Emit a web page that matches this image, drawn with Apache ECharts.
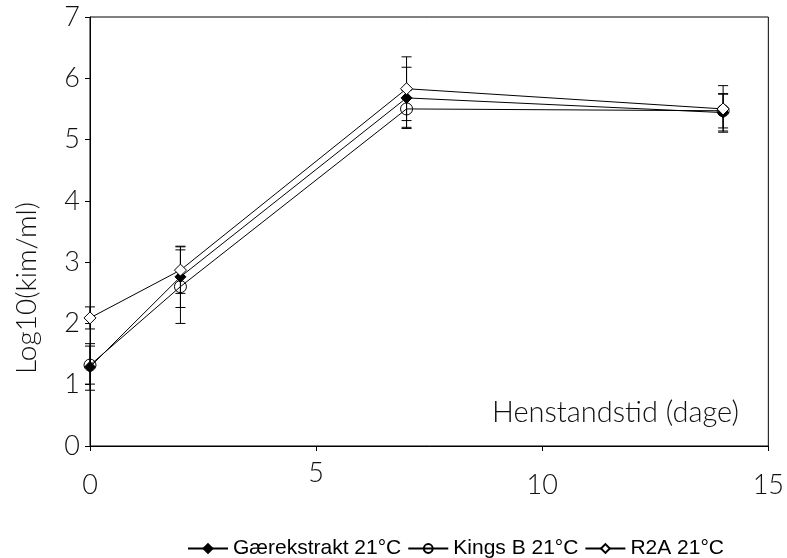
<!DOCTYPE html>
<html>
<head>
<meta charset="utf-8">
<script src="https://cdn.jsdelivr.net/npm/echarts@6/dist/echarts.min.js"></script>
<style>
  html, body { margin: 0; padding: 0; background: #fff; }
  #echarts { width: 787px; height: 558px; }
</style>
</head>
<body>
<div id="echarts"></div>
<script>
var days = [0, 2, 7, 14];
var gaer = [1.29, 2.76, 5.68, 5.44];
var gaerErr = [0.38, 0.5, 0.5, 0.3];
var kings = [1.32, 2.60, 5.50, 5.47];
var kingsErr = [0.31, 0.6, 0.3, 0.28];
var r2a = [2.09, 2.87, 5.83, 5.50];
var r2aErr = [0.18, 0.38, 0.52, 0.38];
var names = ['Gærekstrakt 21°C', 'Kings B 21°C', 'R2A 21°C'];

var myChart = echarts.init(document.getElementById('echarts'));
var thin = 'Lato';

function pts(vals) {
  return days.map(function (d, i) { return [d, vals[i]]; });
}
function errData(vals, errs) {
  return days.map(function (d, i) { return [d, vals[i] - errs[i], vals[i] + errs[i]]; });
}
function renderErr(params, api) {
  var lo = api.coord([api.value(0), api.value(1)]);
  var hi = api.coord([api.value(0), api.value(2)]);
  var w = 5;
  var st = { stroke: '#000', lineWidth: 1 };
  return {
    type: 'group',
    children: [
      { type: 'line', shape: { x1: hi[0], y1: hi[1], x2: lo[0], y2: lo[1] }, style: st },
      { type: 'line', shape: { x1: hi[0] - w, y1: hi[1], x2: hi[0] + w, y2: hi[1] }, style: st },
      { type: 'line', shape: { x1: lo[0] - w, y1: lo[1], x2: lo[0] + w, y2: lo[1] }, style: st }
    ]
  };
}
function errSeries(vals, errs) {
  return {
    type: 'custom',
    renderItem: renderErr,
    data: errData(vals, errs),
    clip: false,
    silent: true,
    z: 1
  };
}
function lineSeries(name, vals, symbol, size, fill) {
  return {
    name: name,
    type: 'line',
    data: pts(vals),
    symbol: symbol,
    symbolSize: size,
    showAllSymbol: true,
    clip: false,
    lineStyle: { color: '#000', width: 1 },
    itemStyle: { color: fill, borderColor: '#000', borderWidth: 1 },
    z: 3
  };
}

option = {
  backgroundColor: '#fff',
  animation: false,
  grid: { left: 90, right: 14, top: 17, bottom: 112, show: true, borderColor: '#000', borderWidth: 1 },
  xAxis: {
    type: 'value',
    min: 0, max: 15, interval: 5,
    axisLine: { lineStyle: { color: '#000', width: 1 } },
    axisTick: { show: true, length: 5, lineStyle: { color: '#000' } },
    splitLine: { show: false },
    axisLabel: {
      color: '#111', fontFamily: thin, fontWeight: 300, fontSize: 27, margin: 14,
      formatter: function (v) { return v === 5 ? '{u|5}' : '{n|' + v + '}'; },
      rich: {
        n: { fontFamily: thin, fontWeight: 300, fontSize: 27, color: '#111', padding: [12, 0, 0, 0] },
        u: { fontFamily: thin, fontWeight: 300, fontSize: 27, color: '#111', padding: [0, 0, 0, 0] }
      }
    }
  },
  yAxis: {
    type: 'value',
    min: 0, max: 7, interval: 1,
    axisLine: { lineStyle: { color: '#000', width: 1 } },
    axisTick: { show: true, length: 5, lineStyle: { color: '#000' } },
    splitLine: { show: false },
    axisLabel: { color: '#111', fontFamily: thin, fontWeight: 300, fontSize: 27, margin: 10, padding: [12, 0, 0, 0] }
  },
  legend: {
    top: 533,
    left: 182,
    itemWidth: 40,
    itemHeight: 11,
    itemGap: 6,
    textStyle: { fontFamily: 'Liberation Sans', fontSize: 21, color: '#000' },
    data: names
  },
  graphic: [
    {
      type: 'text', x: 492, y: 413,
      style: { text: 'Henstandstid (dage)', fontFamily: thin, fontWeight: 300, fontSize: 29, fill: '#111', verticalAlign: 'middle' }
    },
    {
      type: 'text', x: 27, y: 288, rotation: Math.PI / 2,
      style: { text: 'Log10(kim/ml)', fontFamily: thin, fontWeight: 300, fontSize: 28, fill: '#111', align: 'center', verticalAlign: 'middle' }
    }
  ],
  series: [
    errSeries(gaer, gaerErr),
    errSeries(kings, kingsErr),
    errSeries(r2a, r2aErr),
    lineSeries(names[0], gaer, 'diamond', 11, '#000'),
    lineSeries(names[1], kings, 'circle', 12, 'rgba(0,0,0,0)'),
    lineSeries(names[2], r2a, 'diamond', 12, '#fff')
  ]
};

myChart.setOption(option);
</script>
</body>
</html>
